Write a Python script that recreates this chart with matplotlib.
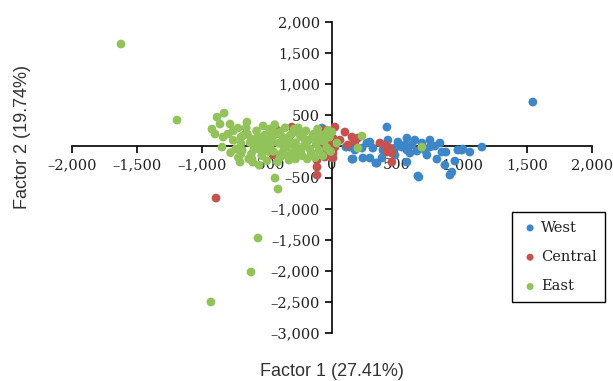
import numpy as np
import matplotlib
matplotlib.use("Agg")
import matplotlib.pyplot as plt
from matplotlib.ticker import FuncFormatter, MultipleLocator

# factor scores (Factor 1, Factor 2)
west_x = [1546, 1154, 1061, 1000, 423, 669, 908, 946, 808, 1007, 969, 877, 831, 754,
          754, 692, 615, 577, 577, 538, 485, 431, 446, 577, 385, 338, 292, 238, 162,
          269, 315, 231, 138, 108, 177, 392, 654, 846, 661, 869, 923, 292, 154, 346,
          -77, 561, 638, 715, 792, 508, 600, 731, 485]
west_y = [714, -10, -90, -58, 312, -492, -460, -235, -203, -42, -58, -90, 55, 103,
          -10, 55, 23, 135, -58, -10, -26, 103, -58, -251, -186, -267, -186, -186, -203,
          55, -26, -26, -10, -10, -58, -58, -74, -90, -475, -299, -412, 71, -203, -267,
          296, 23, 103, -58, 6, 71, -106, -138, -138]

central_x = [-892, -308, -423, -454, -115, -115, -115, 23, 8, -38, 0, -54, -38, -31,
             -69, -54, 100, 154, 177, 123, 23, 8, 8, 369, 408, 446, 461, 461, 200,
             62, 423, -454, -423, -100]
central_y = [-830, 312, 264, -138, -219, -331, -460, 312, 135, -58, -138, 264, 151, 55,
             -58, -170, 232, 151, 71, 23, -10, -106, -186, 55, 23, -26, -106, -251, 135,
             103, -90, -90, 215, 40]

east_x = [-1623, -1192, -931, -623, -569, -438, -415, 692, 0, 38, 231, 200,
          -884, -830, -923, -861, -784, -838, -846, -700, -723, -654, -760, -700,
          -650, -620, -600, -580, -560, -540, -520, -500, -480, -460, -450, -430,
          -410, -400, -380, -360, -350, -330, -310, -300, -280, -260, -240, -220,
          -200, -180, -160, -140, -120, -100, -80, -60, -40, -20, -680, -640, -610,
          -720, -560, -500, -470, -420, -390, -330, -290, -250, -230, -190, -150,
          -110, -70, -30, -700, -660, -590, -530, -510, -490, -440, -370, -340,
          -320, -270, -210, -170, -130, -90, -50, -760, -740, -800, -780, -690,
          -630, -570, -550, -470, -450, -360, -300, -260, -240, -200, -120, -10,
          -900, -620, -530, -400, -280, -707, -615]
east_y = [1647, 424, -2501, -2019, -1473, -508, -685, -10, 232, 55, 167, -26,
          471, 537, 280, 360, 360, 151, -10, -122, 296, 392, 100, 50,
          200, 120, -50, 250, 80, -150, 180, 0, 280, 120, -80, 200,
          50, -180, 150, 300, 0, 100, -100, 220, 60, -50, 160, 0,
          250, 100, -120, 200, 40, -60, 180, 80, -20, 150, 180, -200, -250,
          -180, -300, -230, 200, -250, -120, -220, 280, 200, -150, -200, 150,
          280, -150, 260, 150, 300, 20, 330, 100, -80, 350, -50, -160,
          180, -120, 120, -40, -180, 100, 200, 250, -40, 200, -100, -60,
          60, 150, -60, 40, 220, 80, 30, 300, -80, 40, 120, -80,
          200, -120, -30, 230, -200, -252, -203]

series = [("West", west_x, west_y, "#3D87C9"),
          ("Central", central_x, central_y, "#C4524F"),
          ("East", east_x, east_y, "#92C25A")]

fig = plt.figure(figsize=(6.13, 3.81), dpi=100)
ax = fig.add_axes([0.1175, 0.126, 0.848, 0.816])

for name, xs, ys, col in series:
    ax.scatter(xs, ys, s=40, color=col, edgecolors="none", label=name, zorder=3)

ax.set_xlim(-2000, 2000)
ax.set_ylim(-3000, 2000)
ax.xaxis.set_major_locator(MultipleLocator(500))
ax.yaxis.set_major_locator(MultipleLocator(500))
fmt = FuncFormatter(lambda v, p: f"{v:,.0f}".replace("-", "\u2013"))
ax.xaxis.set_major_formatter(fmt)
ax.yaxis.set_major_formatter(fmt)

for s in ["left", "bottom"]:
    ax.spines[s].set_position("zero")
    ax.spines[s].set_linewidth(1.2)
for s in ["right", "top"]:
    ax.spines[s].set_visible(False)
ax.tick_params(direction="out", length=5, width=1.2, labelsize=10.5, colors="#222222")
ax.tick_params(color="black")
for lab in ax.get_xticklabels() + ax.get_yticklabels():
    lab.set_family("DejaVu Serif")

fig.text(0.5416, 0.024, "Factor 1 (27.41%)", ha="center", va="center",
         fontsize=13, family="Liberation Sans", color="#333333")
fig.text(0.036, 0.64, "Factor 2 (19.74%)", ha="center", va="center", rotation=90,
         fontsize=13, family="Liberation Sans", color="#333333")

leg = fig.legend(loc="upper left", bbox_to_anchor=(0.835, 0.4436), borderaxespad=0,
                 fancybox=False, framealpha=1, edgecolor="black", handletextpad=0.1,
                 borderpad=0.6, labelspacing=1.05, handlelength=1.3, markerscale=0.8,
                 prop={"family": "DejaVu Serif", "size": 10.5})
leg.get_frame().set_linewidth(1.0)
for t in leg.get_texts():
    t.set_color("#222222")

fig.savefig("out.png", dpi=100)
